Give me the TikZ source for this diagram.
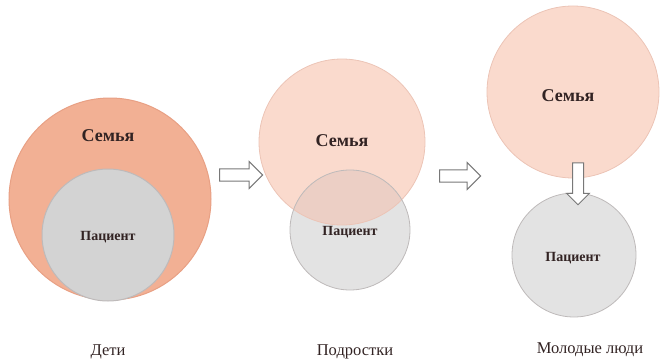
\documentclass[tikz,border=0pt]{standalone}
\usepackage{fontspec}
\setmainfont{Liberation Serif}
\usetikzlibrary{shapes.arrows}
\definecolor{famA}{RGB}{242,176,148}
\definecolor{famAline}{RGB}{232,160,132}
\definecolor{famB}{RGB}{250,218,205}
\definecolor{famBline}{RGB}{236,196,182}
\definecolor{patA}{RGB}{211,211,211}
\definecolor{patB}{RGB}{227,227,227}
\definecolor{patline}{RGB}{190,186,186}
\definecolor{overlap}{RGB}{236,207,197}
\definecolor{txt}{RGB}{50,35,35}
\definecolor{arrline}{RGB}{120,120,120}
\tikzset{
  fam/.style={circle, inner sep=0pt, font=\bfseries\fontsize{18}{20}\selectfont, text=txt},
  pat/.style={circle, inner sep=0pt, font=\bfseries\fontsize{14}{16}\selectfont, text=txt},
  lbl/.style={font=\fontsize{16.5}{18}\selectfont, text=txt},
  blockarrow/.style={single arrow, draw=arrline, fill=white, line width=1pt, inner sep=0pt, text height=11pt, text depth=0pt, single arrow head extend=7pt, anchor=center},
}
\begin{document}
\begin{tikzpicture}[x=1pt,y=-1pt]
\useasboundingbox (0,0) rectangle (663,361);
% ---------- Дети ----------
\node[fam, fill=famA, draw=famAline, line width=1pt, minimum size=202pt] (fam1) at (110,199) {};
\node[pat, fill=patA, draw=patline, line width=1pt, minimum size=132pt] (pat1) at (108,235) {};
\node[fam] (famtxt1) at (108,136) {Семья};
\node[pat] (pattxt1) at (108,237) {Пациент};
\node[lbl] (lab1) at (108,352) {Дети};
% ---------- arrow 1 ----------
\node[blockarrow, minimum height=43pt, minimum width=27pt] (arr1) at (238,175) {};
% ---------- Подростки ----------
\node[fam, fill=famB, minimum size=166pt] (fam2) at (342,142) {};
\node[pat, fill=patB, minimum size=120pt] (pat2) at (350,230) {};
\begin{scope}
  \clip (fam2.center) circle (83pt);
  \fill[overlap] (pat2.center) circle (60pt);
\end{scope}
\draw[famBline, line width=0.8pt] (fam2.center) circle (83pt);
\draw[patline, line width=0.8pt] (pat2.center) circle (60pt);
\node[fam] (famtxt2) at (342,141) {Семья};
\node[pat] (pattxt2) at (350,232) {Пациент};
\node[lbl] (lab2) at (355,352) {Подростки};
% ---------- arrow 2 ----------
\node[blockarrow, minimum height=41pt, minimum width=27pt] (arr2) at (457,176) {};
% ---------- Молодые люди ----------
\node[fam, fill=famB, draw=famBline, line width=0.8pt, minimum size=172pt] (fam3) at (573,92) {};
\node[pat, fill=patB, draw=patline, line width=0.8pt, minimum size=124pt] (pat3) at (574,255) {};
\node[blockarrow, text height=10pt, minimum height=42pt, minimum width=22pt, single arrow head extend=6pt, rotate=-90] (arr3) at (578,181) {};
\node[fam] (famtxt3) at (568,96) {Семья};
\node[pat] (pattxt3) at (573,258) {Пациент};
\node[lbl] (lab3) at (590,350) {Молодые люди};
\end{tikzpicture}
\end{document}
